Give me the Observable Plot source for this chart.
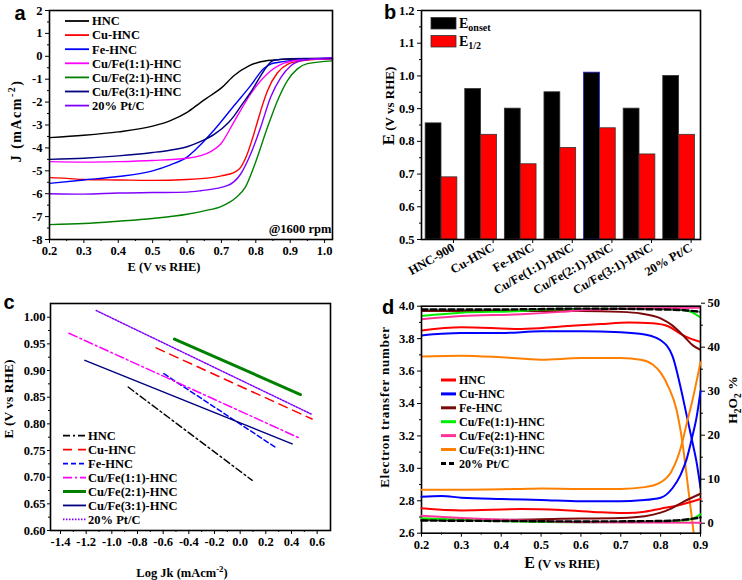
<!DOCTYPE html>
<html><head><meta charset="utf-8">
<script src="https://cdn.jsdelivr.net/npm/d3@7"></script>
<script src="https://cdn.jsdelivr.net/npm/@observablehq/plot@0.6"></script>
<style>
body{margin:0;background:#fff;}
#fig{position:relative;width:742px;height:580px;background:#fff;overflow:hidden;font-family:"Liberation Serif",serif;font-weight:bold;color:#000;}
.pan{position:absolute;width:371px;height:290px;}
.lab{position:absolute;white-space:nowrap;transform:translate(-50%,-50%);font-size:13px;line-height:1;}
.rot{transform:translate(-50%,-50%) rotate(-90deg);}
.letter{position:absolute;font-family:"Liberation Sans",Arial,sans-serif;font-weight:bold;font-size:20px;transform:translate(-50%,-50%);line-height:1;}
svg.plt{position:absolute;left:0;top:0;overflow:visible;}
sub,sup{font-size:70%;line-height:0;}
</style></head>
<body><div id="fig"></div>
<script>
// ---------------- DATA ----------------
// Panel a: LSV curves, [E (V vs RHE), J (mA cm-2)]
const aSeries = ["HNC","Cu-HNC","Fe-HNC","Cu/Fe(1:1)-HNC","Cu/Fe(2:1)-HNC","Cu/Fe(3:1)-HNC","20% Pt/C"];
const a_HNC = [[0.2,-3.55],[0.3,-3.45],[0.4,-3.3],[0.5,-3.05],[0.55,-2.82],[0.6,-2.45],[0.64,-2.01],[0.67,-1.7],[0.7,-1.38],[0.737,-0.84],[0.78,-0.42],[0.814,-0.24],[0.863,-0.15],[0.95,-0.11],[1.023,-0.1]];
const a_Cu = [[0.2,-5.3],[0.25,-5.33],[0.3,-5.38],[0.4,-5.4],[0.5,-5.42],[0.6,-5.38],[0.7,-5.22],[0.74,-5.05],[0.756,-4.85],[0.775,-4.27],[0.79,-3.6],[0.805,-2.85],[0.82,-2.1],[0.834,-1.5],[0.863,-0.72],[0.892,-0.35],[0.931,-0.2],[1.0,-0.12],[1.023,-0.11]];
const a_Fe = [[0.2,-5.55],[0.3,-5.4],[0.4,-5.25],[0.5,-5.0],[0.55,-4.75],[0.6,-4.4],[0.64,-3.85],[0.68,-3.2],[0.737,-2.15],[0.785,-1.28],[0.824,-0.52],[0.845,-0.33],[0.863,-0.27],[0.906,-0.18],[1.023,-0.1]];
const a_11 = [[0.2,-4.6],[0.3,-4.62],[0.4,-4.6],[0.5,-4.55],[0.6,-4.45],[0.64,-4.34],[0.67,-4.15],[0.698,-3.83],[0.737,-2.85],[0.785,-1.64],[0.833,-0.77],[0.882,-0.3],[0.931,-0.16],[1.023,-0.1]];
const a_21 = [[0.2,-7.35],[0.3,-7.3],[0.4,-7.2],[0.5,-7.08],[0.6,-6.9],[0.65,-6.75],[0.7,-6.55],[0.74,-6.2],[0.77,-5.7],[0.795,-4.8],[0.834,-3.1],[0.863,-1.94],[0.892,-1.06],[0.921,-0.55],[0.95,-0.32],[1.023,-0.2]];
const a_31 = [[0.2,-4.5],[0.3,-4.45],[0.4,-4.35],[0.5,-4.2],[0.55,-4.1],[0.6,-3.95],[0.64,-3.72],[0.68,-3.4],[0.72,-2.9],[0.737,-2.6],[0.76,-2.1],[0.785,-1.57],[0.81,-0.95],[0.824,-0.62],[0.84,-0.3],[0.853,-0.17],[0.9,-0.1],[1.023,-0.08]];
const a_Pt = [[0.2,-6.0],[0.3,-6.02],[0.4,-5.97],[0.5,-5.95],[0.6,-5.93],[0.64,-5.87],[0.717,-5.65],[0.756,-5.14],[0.785,-4.27],[0.814,-3.1],[0.843,-1.79],[0.873,-0.92],[0.902,-0.41],[0.941,-0.16],[1.023,-0.06]];
const aXTicks = [0.2,0.3,0.4,0.5,0.6,0.7,0.8,0.9,1.0];
const aYTicks = [-8,-7,-6,-5,-4,-3,-2,-1,0,1,2];

// Panel b: onset and half-wave potentials
const bCategories = ["HNC-900","Cu-HNC","Fe-HNC","Cu/Fe(1:1)-HNC","Cu/Fe(2:1)-HNC","Cu/Fe(3:1)-HNC","20% Pt/C"];
const bOnset = [0.855,0.96,0.90,0.95,1.01,0.90,1.00];
const bHalf  = [0.69,0.82,0.73,0.78,0.84,0.76,0.82];
const bYTicks = [0.5,0.6,0.7,0.8,0.9,1.0,1.1,1.2];

// Panel c: Tafel lines, [log Jk, E]
const cSeries = ["HNC","Cu-HNC","Fe-HNC","Cu/Fe(1:1)-HNC","Cu/Fe(2:1)-HNC","Cu/Fe(3:1)-HNC","20% Pt/C"];
const c_HNC = [[-0.873,0.869],[0.094,0.694]];
const c_Cu  = [[-0.655,0.9425],[0.561,0.809]];
const c_Fe  = [[-0.595,0.894],[0.275,0.756]];
const c_11  = [[-1.335,0.97],[0.465,0.773]];
const c_21  = [[-0.512,0.959],[0.47,0.855]];
const c_31  = [[-1.21,0.919],[0.405,0.7625]];
const c_Pt  = [[-1.122,1.0125],[0.561,0.8175]];
const cXTicks = [-1.4,-1.2,-1.0,-0.8,-0.6,-0.4,-0.2,0.0,0.2,0.4,0.6];
const cYTicks = [0.60,0.65,0.70,0.75,0.80,0.85,0.90,0.95,1.00];

// Panel d: electron transfer number n (left) and H2O2 % (right), vs E
const dSeries = ["HNC","Cu-HNC","Fe-HNC","Cu/Fe(1:1)-HNC","Cu/Fe(2:1)-HNC","Cu/Fe(3:1)-HNC","20% Pt/C"];
const dn_HNC = [[0.2,3.85],[0.3,3.87],[0.45,3.86],[0.55,3.875],[0.65,3.89],[0.72,3.9],[0.78,3.895],[0.82,3.875],[0.85,3.83],[0.875,3.8],[0.9,3.78]];
const dn_Cu  = [[0.2,3.82],[0.25,3.83],[0.3,3.835],[0.4,3.835],[0.5,3.845],[0.6,3.845],[0.7,3.84],[0.76,3.825],[0.8,3.79],[0.83,3.69],[0.85,3.5],[0.865,3.33],[0.879,3.17],[0.89,3.04],[0.9,2.88]];
const dn_Fe  = [[0.2,3.97],[0.4,3.97],[0.6,3.97],[0.7,3.965],[0.75,3.955],[0.8,3.925],[0.83,3.88],[0.86,3.81],[0.88,3.76],[0.9,3.73]];
const dn_11  = [[0.2,3.94],[0.3,3.96],[0.45,3.97],[0.5,3.98],[0.7,3.985],[0.8,3.985],[0.86,3.975],[0.88,3.96],[0.9,3.93]];
const dn_21  = [[0.2,3.92],[0.3,3.94],[0.45,3.95],[0.55,3.965],[0.6,3.975],[0.7,3.985],[0.9,3.99]];
const dn_31  = [[0.2,3.69],[0.3,3.695],[0.4,3.685],[0.5,3.67],[0.6,3.68],[0.7,3.68],[0.75,3.67],[0.78,3.64],[0.8,3.59],[0.82,3.5],[0.84,3.36],[0.854,3.17],[0.868,2.9],[0.883,2.6],[0.895,2.38]];
const dn_Pt  = [[0.2,3.98],[0.4,3.98],[0.6,3.985],[0.8,3.98],[0.86,3.975],[0.9,3.965]];
const dh_HNC = [[0.2,3.4],[0.3,2.9],[0.45,3.2],[0.55,3.0],[0.65,2.5],[0.716,2.3],[0.76,2.6],[0.8,3.3],[0.842,4.0],[0.9,5.5]];
const dh_Cu  = [[0.2,6.0],[0.25,6.2],[0.3,5.8],[0.4,5.5],[0.5,5.3],[0.6,5.0],[0.7,5.0],[0.75,5.2],[0.8,5.8],[0.83,8.0],[0.85,11],[0.865,14.5],[0.879,19.5],[0.89,24],[0.9,30]];
const dh_Fe  = [[0.2,0.8],[0.4,0.8],[0.55,1.0],[0.7,1.2],[0.76,1.6],[0.8,2.4],[0.826,3.3],[0.858,4.9],[0.9,6.7]];
const dh_11  = [[0.2,1.1],[0.3,0.8],[0.4,0.5],[0.6,0.2],[0.8,0.3],[0.86,0.6],[0.88,1.0],[0.9,2.0]];
const dh_21  = [[0.2,1.7],[0.3,1.2],[0.4,0.8],[0.5,0.5],[0.6,0.2],[0.9,0.1]];
const dh_31  = [[0.2,7.6],[0.3,7.6],[0.45,7.8],[0.5,7.9],[0.6,7.8],[0.7,7.8],[0.76,8.2],[0.8,9.3],[0.826,11.6],[0.843,15],[0.853,18],[0.865,22.5],[0.88,28],[0.9,36.6]];
const dh_Pt  = [[0.2,0.6],[0.4,0.5],[0.6,0.4],[0.8,0.5],[0.86,0.8],[0.9,1.3]];
const dXTicks = [0.2,0.3,0.4,0.5,0.6,0.7,0.8,0.9];
const dYTicks = [2.6,2.8,3.0,3.2,3.4,3.6,3.8,4.0];
const dRTicks = [0,10,20,30,40,50];

// ---------------- STYLES ----------------
const aColors = ["#000000","#ff0000","#0000ff","#ff00ff","#008000","#000080","#8000ff"];
const cColors = ["#000000","#ff0000","#0000ff","#ff00ff","#008000","#000080","#8000ff"];
const cDash = ["7,3,2,3","9,6","5,3","9,3,2,3",null,null,"1.5,1.5"];
const cWidth = [1.4,1.5,1.5,1.5,3,1.5,1.5];
const dColors = ["#ff0000","#0000ff","#7a0a0a","#00ee00","#ff3399","#ff8000","#000000"];
const dDash = [null,null,null,null,null,null,"6,3"];

const fig = document.getElementById("fig");
const mids = t => t.slice(1).map((v,i)=>(v+t[i])/2);
const baseStyle = {fontFamily:"Liberation Serif, serif", fontWeight:"bold", fontSize:"12px", background:"transparent", overflow:"visible", color:"black"};

function panel(l,t){const d=document.createElement("div");d.className="pan";d.style.left=l+"px";d.style.top=t+"px";fig.append(d);return d;}
function put(d,svg){svg.classList.add("plt");d.append(svg);}
function lab(d,html,cx,cy,rot,fs,ls){const s=document.createElement("div");s.className="lab"+(rot?" rot":"");s.style.left=cx+"px";s.style.top=cy+"px";if(fs)s.style.fontSize=fs+"px";if(ls)s.style.letterSpacing=ls+"px";s.innerHTML=html;d.append(s);}
function letter(d,t,cx,cy){const s=document.createElement("div");s.className="letter";s.style.left=cx+"px";s.style.top=cy+"px";s.textContent=t;d.append(s);}
function lineLegend(d,items,{x1,x2,tx,y0,dy,fs=12.5}){
  const svg=d3.create("svg").attr("width",371).attr("height",290).attr("class","plt")
    .style("font-family","Liberation Serif, serif").style("font-weight","bold").style("font-size",fs+"px");
  items.forEach((it,i)=>{const y=y0+i*dy;
    svg.append("line").attr("x1",x1).attr("x2",x2).attr("y1",y).attr("y2",y).attr("stroke",it.color).attr("stroke-width",it.width||2).attr("stroke-dasharray",it.dash||null);
    svg.append("text").attr("x",tx).attr("y",y).attr("dy","0.35em").attr("fill","black").text(it.label);});
  d.append(svg.node());
}
const toRows = (arr,s)=>arr.map(([x,y])=>({x,y,s}));

// ---------------- PANEL A ----------------
{
  const d = panel(0,0);
  const all = [a_HNC,a_Cu,a_Fe,a_11,a_21,a_31,a_Pt];
  put(d, Plot.plot({
    width:371,height:290,marginLeft:49,marginRight:39,marginTop:10,marginBottom:51,
    style:baseStyle,
    x:{domain:[0.2,1.023]}, y:{domain:[-8,2]},
    marks:[
      Plot.axisX({ticks:aXTicks,tickFormat:v=>v.toFixed(1),tickSize:4,tickPadding:3,label:null,fontSize:12.5}),
      Plot.axisX({ticks:mids(aXTicks),tickFormat:()=>"",tickSize:2,label:null}),
      Plot.axisY({ticks:aYTicks,tickFormat:v=>String(v),tickSize:4,tickPadding:3,label:null,fontSize:12.5}),
      Plot.axisY({ticks:mids(aYTicks),tickFormat:()=>"",tickSize:2,label:null}),
      ...all.map((s,i)=>Plot.line(toRows(s,aSeries[i]),{x:"x",y:"y",stroke:aColors[i],strokeWidth:1.4,curve:"monotone-x"})),
      Plot.frame({stroke:"black",strokeWidth:1.6})
    ]}));
  lineLegend(d, aSeries.map((s,i)=>({label:s,color:aColors[i],width:1.8})), {x1:65,x2:89,tx:92,y0:21,dy:14.1,fs:12.5});
  lab(d,"@1600 rpm",300,229,false,12.5);
  lab(d,"J (mAcm<sup>-2</sup>)",17,121,true,14,1.5);
  lab(d,"E (V vs RHE)",164,267,false,12.5);
  letter(d,"a",20,13);
}

// ---------------- PANEL B ----------------
{
  const d = panel(371,0);
  const rows = bCategories.map((c,i)=>({i,c,onset:bOnset[i],half:bHalf[i]}));
  put(d, Plot.plot({
    width:371,height:290,marginLeft:50,marginRight:42,marginTop:10,marginBottom:51,
    style:baseStyle,
    x:{domain:[-0.505,6.54]}, y:{domain:[0.5,1.2]},
    marks:[
      Plot.rect(rows,{x1:r=>r.i-0.4,x2:r=>r.i,y1:0.5,y2:"onset",fill:"black",stroke:r=>r.i===4?"#2020d0":"#333",strokeWidth:0.8}),
      Plot.rect(rows,{x1:r=>r.i,x2:r=>r.i+0.4,y1:0.5,y2:"half",fill:"#ff0000",stroke:"#333",strokeWidth:0.8}),
      Plot.axisX({ticks:rows.map(r=>r.i),tickFormat:i=>bCategories[i],tickRotate:-30,tickSize:4,tickPadding:3,dx:12,label:null,fontSize:12.5}),
      Plot.axisY({ticks:bYTicks,tickFormat:v=>v.toFixed(1),tickSize:4,tickPadding:3,label:null,fontSize:12.5}),
      Plot.axisY({ticks:mids(bYTicks),tickFormat:()=>"",tickSize:2,label:null}),
      Plot.frame({stroke:"black",strokeWidth:1.6})
    ]}));
  // legend
  const svg=d3.create("svg").attr("width",371).attr("height",290).attr("class","plt")
    .style("font-family","Liberation Serif, serif").style("font-weight","bold");
  [["black","onset",17.5],["#ff0000","1/2",35.5]].forEach(([c,sub,y])=>{
    svg.append("rect").attr("x",60).attr("y",y).attr("width",25).attr("height",11.5).attr("fill",c).attr("stroke","#333").attr("stroke-width",0.8);
    const t=svg.append("text").attr("x",88).attr("y",y+10).attr("font-size","14px").attr("fill","black");
    t.append("tspan").text("E");
    t.append("tspan").attr("font-size","10px").attr("dy",3).text(sub);
  });
  d.append(svg.node());
  lab(d,"<span style='font-size:17px'>E</span> (V vs RHE)",17,106,true,13);
  letter(d,"b",19,12);
}

// ---------------- PANEL C ----------------
{
  const d = panel(0,290);
  const all = [c_HNC,c_Cu,c_Fe,c_11,c_21,c_31,c_Pt];
  put(d, Plot.plot({
    width:371,height:290,marginLeft:50,marginRight:41,marginTop:13,marginBottom:50,
    style:baseStyle,
    x:{domain:[-1.478,0.704]}, y:{domain:[0.6,1.0257]},
    marks:[
      Plot.axisX({ticks:cXTicks,tickFormat:v=>v.toFixed(1),tickSize:4,tickPadding:3,label:null,fontSize:12.5}),
      Plot.axisX({ticks:mids(cXTicks),tickFormat:()=>"",tickSize:2,label:null}),
      Plot.axisY({ticks:cYTicks,tickFormat:v=>v.toFixed(2),tickSize:3,tickPadding:2,label:null,fontSize:12.5}),
      Plot.axisY({ticks:mids(cYTicks),tickFormat:()=>"",tickSize:2,label:null}),
      ...all.map((s,i)=>Plot.line(toRows(s,cSeries[i]),{x:"x",y:"y",stroke:cColors[i],strokeWidth:cWidth[i],strokeDasharray:cDash[i]})),
      Plot.frame({stroke:"black",strokeWidth:1.6})
    ]}));
  lineLegend(d, cSeries.map((s,i)=>({label:s,color:cColors[i],width:cWidth[i]===3?3:1.8,dash:cDash[i]})), {x1:63,x2:86,tx:88,y0:145.7,dy:13.95,fs:12.5});
  lab(d,"E (V vs RHE)",9,109,true,13.5);
  lab(d,"Log Jk (mAcm<sup>-2</sup>)",182,283,false,12.5);
  letter(d,"c",9,12);
}

// ---------------- PANEL D ----------------
{
  const d = panel(371,290);
  const nAll = [dn_HNC,dn_Cu,dn_Fe,dn_11,dn_21,dn_31,dn_Pt];
  const hAll = [dh_HNC,dh_Cu,dh_Fe,dh_11,dh_21,dh_31,dh_Pt];
  const w = i => i===6 ? 2.4 : 2;
  put(d, Plot.plot({
    width:371,height:290,marginLeft:50,marginRight:42,marginTop:15.7,marginBottom:47.3,
    style:baseStyle,
    x:{domain:[0.2,0.9]}, y:{domain:[2.6,4.0]},
    marks:[
      Plot.axisX({ticks:dXTicks,tickFormat:v=>v.toFixed(1),tickSize:4,tickPadding:3,label:null,fontSize:12.5}),
      Plot.axisX({ticks:mids(dXTicks),tickFormat:()=>"",tickSize:2,label:null}),
      Plot.axisY({ticks:dYTicks,tickFormat:v=>v.toFixed(1),tickSize:4,tickPadding:3,label:null,fontSize:12.5}),
      Plot.axisY({ticks:mids(dYTicks),tickFormat:()=>"",tickSize:2,label:null}),
      ...nAll.map((s,i)=>Plot.line(toRows(s,dSeries[i]),{x:"x",y:"y",stroke:dColors[i],strokeWidth:w(i),strokeDasharray:dDash[i],curve:"monotone-x",clip:true})),
      Plot.frame({stroke:"black",strokeWidth:1.6})
    ]}));
  put(d, Plot.plot({
    width:371,height:290,marginLeft:50,marginRight:42,marginTop:12.7,marginBottom:57.3,
    style:baseStyle,
    x:{domain:[0.2,0.9],axis:null}, y:{domain:[0,50]},
    marks:[
      Plot.axisY({anchor:"right",ticks:dRTicks,tickFormat:v=>String(v),tickSize:4,tickPadding:3,label:null,fontSize:12.5}),
      Plot.axisY({anchor:"right",ticks:mids(dRTicks),tickFormat:()=>"",tickSize:2,label:null}),
      ...hAll.map((s,i)=>Plot.line(toRows(s,dSeries[i]),{x:"x",y:"y",stroke:dColors[i],strokeWidth:w(i),strokeDasharray:dDash[i],curve:"monotone-x"}))
    ]}));
  lineLegend(d, dSeries.map((s,i)=>({label:s,color:dColors[i],width:3,dash:dDash[i]?"5,3":null})), {x1:70,x2:85,tx:88,y0:90,dy:13.9,fs:12});
  lab(d,"Electron transfer number",13,117,true,13,0.8);
  lab(d,"H<sub>2</sub>O<sub>2</sub> %",362,110,true,13.5);
  lab(d,"<span style='font-size:16px'>E</span> (V vs RHE)",191,273,false,12.5);
  letter(d,"d",17,17);
}
</script>
</body></html>
